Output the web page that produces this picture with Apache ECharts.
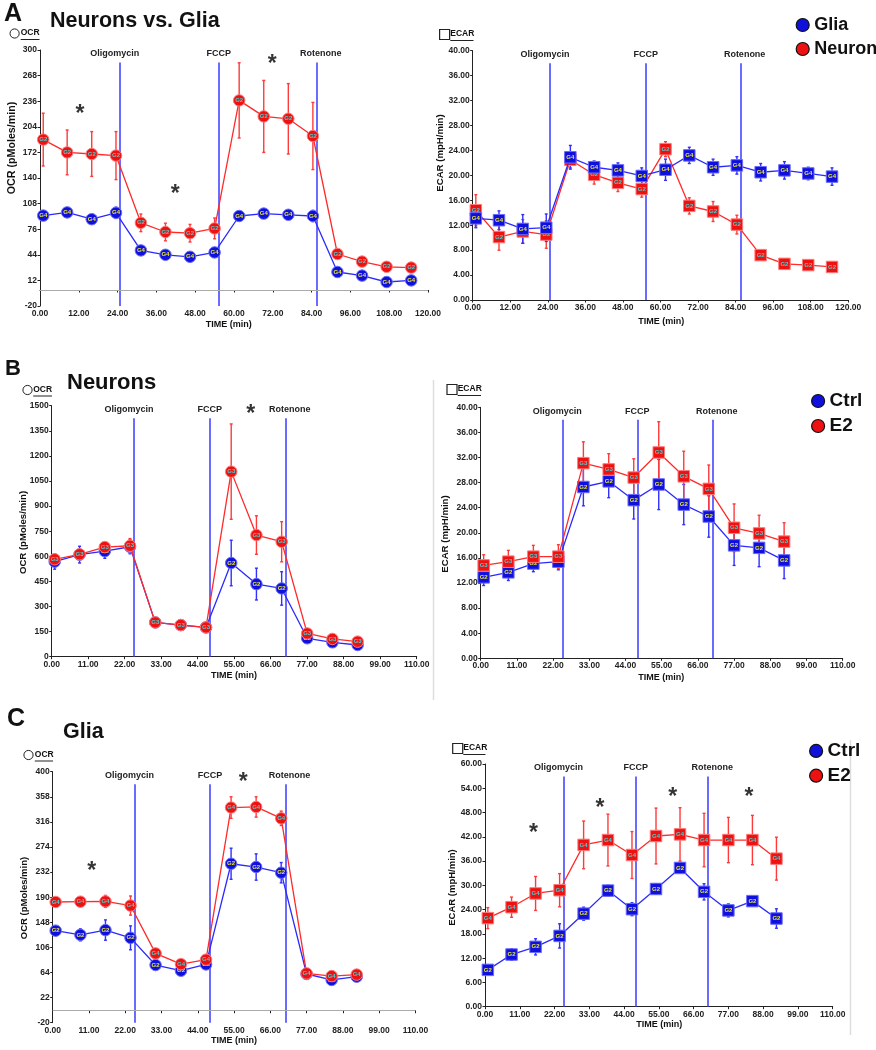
<!DOCTYPE html>
<html><head><meta charset="utf-8">
<script src="https://cdn.jsdelivr.net/npm/echarts@6/dist/echarts.min.js"></script>
<style>html,body{margin:0;padding:0;background:#fff}#c{width:876px;height:1050px}</style>
</head><body><div id="c"></div>
<script>
// ---------- DATA ----------
const drugNames = ['Oligomycin', 'FCCP', 'Rotenone'];

// Panel A (Neurons vs. Glia)
const timesA = [1.0, 8.4, 16.0, 23.5, 31.2, 38.8, 46.4, 54.0, 61.6, 69.2, 76.8, 84.4, 92.0, 99.6, 107.2, 114.8];
const injA = [24.7, 55.3, 85.6];
const neuronOcrA = [188, 172, 170, 168, 84, 72.5, 71, 77, 237, 217, 214, 192.5, 45, 35.5, 29, 28];
const neuronOcrErrA = [33, 28, 28, 30, 11, 11, 11, 13, 47, 45, 44, 42, 3, 3, 2, 2];
const gliaOcrA = [93, 97, 88.5, 96.5, 49.5, 44, 41.5, 47, 92.5, 95.5, 94, 92.5, 22.5, 18, 10, 12];
const gliaOcrErrA = [3, 3, 3, 7, 2, 2, 2, 2, 3, 3, 5, 7, 2, 2, 2, 2];
const neuronEcarA = [14.4, 10.1, 11.0, 10.5, 22.5, 20.1, 18.8, 17.8, 24.2, 15.1, 14.2, 12.1, 7.2, 5.8, 5.6, 5.3];
const neuronEcarErrA = [2.5, 2.1, 1.9, 2.2, 1.3, 1.5, 1.4, 1.3, 1.2, 1.3, 1.6, 1.5, 0.3, 0.3, 0.3, 0.3];
const gliaEcarA = [13.1, 12.8, 11.4, 11.6, 22.9, 21.3, 20.8, 19.9, 20.9, 23.2, 21.3, 21.6, 20.5, 20.8, 20.3, 19.8];
const gliaEcarErrA = [1.5, 1.5, 2.3, 2.2, 1.9, 1.0, 1.2, 1.3, 1.7, 1.3, 1.3, 1.4, 1.4, 1.4, 1.0, 1.4];
const starsOcrA = [[12.4, 225], [41.8, 126], [71.8, 287.5]];

// Panel B (Neurons, Ctrl vs E2)
const timesB = [0.9, 8.4, 16.0, 23.6, 31.2, 38.9, 46.5, 54.1, 61.7, 69.3, 77.0, 84.6, 92.2];
const injB = [24.8, 47.6, 70.5];
const ctrlOcrB = [568, 610, 631, 657, 205, 189, 175, 560, 434, 408, 110, 86, 70];
const ctrlOcrErrB = [45, 50, 43, 42, 10, 10, 10, 136, 95, 100, 10, 10, 10];
const e2OcrB = [582, 612, 655, 663, 205, 189, 175, 1106, 727, 687, 139, 106, 90];
const e2OcrErrB = [20, 20, 20, 43, 10, 10, 10, 285, 115, 120, 15, 15, 10];
const ctrlEcarB = [12.9, 13.7, 15.1, 15.4, 27.3, 28.2, 25.2, 27.7, 24.5, 22.6, 18.0, 17.6, 15.6];
const ctrlEcarErrB = [1.3, 1.3, 1.3, 1.3, 3.0, 2.6, 3.0, 4.0, 3.2, 3.3, 3.2, 3.0, 2.9];
const e2EcarB = [14.8, 15.4, 16.2, 16.2, 31.1, 30.1, 28.8, 32.8, 29.0, 27.0, 20.8, 19.9, 18.6];
const e2EcarErrB = [1.7, 1.8, 1.8, 1.9, 3.4, 2.5, 3.0, 4.9, 4.0, 3.8, 3.8, 2.9, 3.0];
const starsOcrB = [[60.0, 1478]];

// Panel C (Glia, Ctrl vs E2)
const timesC = [0.9, 8.4, 16.0, 23.6, 31.2, 38.9, 46.5, 54.1, 61.7, 69.3, 77.0, 84.6, 92.2];
const injC = [24.8, 47.7, 70.6];
const ctrlOcrC = [134, 127, 135, 122, 76.5, 67, 77.5, 246, 240.5, 231, 61.5, 51.5, 57];
const ctrlOcrErrC = [5, 10, 17, 20, 4, 3, 3, 26, 22, 17, 3, 3, 3];
const e2OcrC = [182, 182.5, 183, 176, 96, 78, 85.5, 340, 341, 322, 62.5, 58, 60.5];
const e2OcrErrC = [3, 3, 10, 16, 5, 4, 5, 18, 17, 12, 3, 3, 3];
const ctrlEcarC = [9.1, 12.9, 14.8, 17.5, 23.0, 28.7, 24.1, 29.1, 34.3, 28.4, 23.8, 26.1, 21.8];
const ctrlEcarErrC = [0.8, 1.4, 2.0, 3.0, 1.6, 1.3, 1.6, 1.3, 1.2, 2.0, 1.6, 1.1, 2.4];
const e2EcarC = [21.9, 24.6, 28.0, 28.8, 40.0, 41.2, 37.5, 42.2, 42.6, 41.2, 41.2, 41.2, 36.6];
const e2EcarErrC = [2.6, 2.5, 4.2, 4.1, 5.9, 6.4, 5.8, 6.9, 6.6, 6.6, 5.6, 6.1, 5.3];
const starsOcrC = [[11.8, 241], [57.8, 390.6]];
const starsEcarC = [[15.3, 43.9], [36.4, 50.3], [59.4, 52.9], [83.5, 52.9]];

// Tick values
const timeTicksA = [0, 12, 24, 36, 48, 60, 72, 84, 96, 108, 120];
const timeTicksBC = [0, 11, 22, 33, 44, 55, 66, 77, 88, 99, 110];
const ocrTicksA = [-20, 12, 44, 76, 108, 140, 172, 204, 236, 268, 300];
const ocrTicksB = [0, 150, 300, 450, 600, 750, 900, 1050, 1200, 1350, 1500];
const ocrTicksC = [-20, 22, 64, 106, 148, 190, 232, 274, 316, 358, 400];
const ecarTicksAB = [0, 4, 8, 12, 16, 20, 24, 28, 32, 36, 40];
const ecarTicksC = [0, 6, 12, 18, 24, 30, 36, 42, 48, 54, 60];

// ---------- STYLE ----------
const RED = {marker: '#ee1111', border: '#ff7a7a', line: '#ff2a2a', err: '#ff3a3a', tag: '#48d0d0'};
const BLUE = {marker: '#1010dd', border: '#6a6aff', line: '#2a2aff', err: '#3030ff', tag: '#e8e830'};
const FONT = 'Arial, "Liberation Sans", Helvetica, sans-serif';
const drugLabelShift = [-5, 0, 4];
const intFmt = v => String(Math.round(v));
const dec2 = v => v.toFixed(2);

const panels = [
  {grid: {left: 40, top: 50, width: 388, height: 256}, xt: timeTicksA, yt: ocrTicksA, yFmt: intFmt,
   times: timesA, inj: injA, stars: starsOcrA, zero: true, sym: 'circle',
   series: [
     {name: 'Glia', v: gliaOcrA, e: gliaOcrErrA, tag: 'G4', c: BLUE},
     {name: 'Neuron', v: neuronOcrA, e: neuronOcrErrA, tag: 'G2', c: RED}]},
  {grid: {left: 472.7, top: 50.7, width: 375.6, height: 249.3}, xt: timeTicksA, yt: ecarTicksAB, yFmt: dec2,
   times: timesA, inj: injA, stars: [], zero: false, sym: 'rect',
   series: [
     {name: 'Neuron', v: neuronEcarA, e: neuronEcarErrA, tag: 'G2', c: RED},
     {name: 'Glia', v: gliaEcarA, e: gliaEcarErrA, tag: 'G4', c: BLUE}]},
  {grid: {left: 51.7, top: 405.7, width: 365, height: 251}, xt: timeTicksBC, yt: ocrTicksB, yFmt: intFmt,
   times: timesB, inj: injB, stars: starsOcrB, zero: false, sym: 'circle',
   series: [
     {name: 'Ctrl', v: ctrlOcrB, e: ctrlOcrErrB, tag: 'G2', c: BLUE},
     {name: 'E2', v: e2OcrB, e: e2OcrErrB, tag: 'G3', c: RED}]},
  {grid: {left: 480.7, top: 407.3, width: 362, height: 251}, xt: timeTicksBC, yt: ecarTicksAB, yFmt: dec2,
   times: timesB, inj: injB, stars: [], zero: false, sym: 'rect',
   series: [
     {name: 'Ctrl', v: ctrlEcarB, e: ctrlEcarErrB, tag: 'G2', c: BLUE},
     {name: 'E2', v: e2EcarB, e: e2EcarErrB, tag: 'G3', c: RED}]},
  {grid: {left: 52.7, top: 771.7, width: 362.7, height: 251}, xt: timeTicksBC, yt: ocrTicksC, yFmt: intFmt,
   times: timesC, inj: injC, stars: starsOcrC, zero: true, sym: 'circle',
   series: [
     {name: 'Ctrl', v: ctrlOcrC, e: ctrlOcrErrC, tag: 'G2', c: BLUE},
     {name: 'E2', v: e2OcrC, e: e2OcrErrC, tag: 'G4', c: RED}]},
  {grid: {left: 485, top: 764, width: 347.7, height: 242.7}, xt: timeTicksBC, yt: ecarTicksC, yFmt: dec2,
   times: timesC, inj: injC, stars: starsEcarC, zero: false, sym: 'rect',
   series: [
     {name: 'Ctrl', v: ctrlEcarC, e: ctrlEcarErrC, tag: 'G2', c: BLUE},
     {name: 'E2', v: e2EcarC, e: e2EcarErrC, tag: 'G4', c: RED}]}
];

const grids = [], xAxes = [], yAxes = [], series = [];
const axisCommon = {
  axisLine: {show: true, lineStyle: {color: '#222', width: 1}},
  splitLine: {show: false}
};

panels.forEach((p, i) => {
  grids.push(Object.assign({containLabel: false}, p.grid));
  const xmin = p.xt[0], xmax = p.xt[p.xt.length - 1];
  const ymin = p.yt[0], ymax = p.yt[p.yt.length - 1];
  xAxes.push(Object.assign({}, axisCommon, {
    type: 'value', gridIndex: i, min: xmin, max: xmax,
    axisLabel: {customValues: p.xt, formatter: dec2, fontSize: 8.5, fontWeight: 'bold', color: '#222', fontFamily: FONT, margin: 3},
    axisTick: {show: true, customValues: p.xt, length: 2.5, lineStyle: {color: '#222'}}
  }));
  yAxes.push(Object.assign({}, axisCommon, {
    type: 'value', gridIndex: i, min: ymin, max: ymax,
    axisLabel: {customValues: p.yt, formatter: p.yFmt, fontSize: 8.5, fontWeight: 'bold', color: '#222', fontFamily: FONT, margin: 3},
    axisTick: {show: true, customValues: p.yt, length: 2.5, lineStyle: {color: '#222'}}
  }));

  const yTop = ymax - (ymax - ymin) * 12.5 / p.grid.height;

  p.series.forEach((s, k) => {
    // error bars
    series.push({
      type: 'custom', xAxisIndex: i, yAxisIndex: i, z: 2, silent: true, animation: false,
      data: p.times.map((t, j) => [t, s.v[j], s.e[j]]),
      encode: {x: 0, y: 1},
      renderItem: (params, api) => {
        const x = api.value(0), y = api.value(1), e = api.value(2);
        const a = api.coord([x, y + e]), b = api.coord([x, y - e]);
        const st = {stroke: s.c.err, lineWidth: 1.4};
        return {type: 'group', children: [
          {type: 'line', shape: {x1: a[0], y1: a[1], x2: b[0], y2: b[1]}, style: st},
          {type: 'line', shape: {x1: a[0] - 1.5, y1: a[1], x2: a[0] + 1.5, y2: a[1]}, style: st},
          {type: 'line', shape: {x1: b[0] - 1.5, y1: b[1], x2: b[0] + 1.5, y2: b[1]}, style: st}
        ]};
      }
    });
    const ser = {
      type: 'line', name: s.name, xAxisIndex: i, yAxisIndex: i, z: 3 + k, animation: false,
      data: p.times.map((t, j) => [t, s.v[j]]),
      symbol: p.sym, symbolSize: 11.5, showAllSymbol: true,
      itemStyle: {color: s.c.marker, borderColor: s.c.border, borderWidth: 1},
      lineStyle: {color: s.c.line, width: 1.3},
      label: {show: true, position: 'inside', formatter: s.tag, fontSize: 6, fontWeight: 'bold', color: s.c.tag, fontFamily: FONT},
      emphasis: {disabled: true}
    };
    if (k === 0) {
      const ml = p.inj.map((t, j) => [
        {name: drugNames[j], coord: [t, yTop], label: {offset: [drugLabelShift[j], 0]}},
        {coord: [t, ymin]}]);
      if (p.zero) ml.push({yAxis: 0, lineStyle: {color: '#aaaaaa', width: 1}, label: {show: false}});
      ser.markLine = {
        silent: true, symbol: ['none', 'none'], animation: false, z: 1,
        lineStyle: {color: '#3a3aff', width: 1.5, type: 'solid'},
        label: {show: true, position: 'start', distance: 4, formatter: '{b}', fontSize: 9, fontWeight: 'bold', color: '#222', fontFamily: FONT},
        emphasis: {disabled: true},
        data: ml
      };
    }
    series.push(ser);
  });

  if (p.stars.length) {
    series.push({
      type: 'scatter', xAxisIndex: i, yAxisIndex: i, z: 6, silent: true, animation: false,
      data: p.stars, symbol: 'circle', symbolSize: 2, itemStyle: {color: 'rgba(0,0,0,0)'},
      label: {show: true, position: 'inside', formatter: '*', fontSize: 23, fontWeight: 'bold', color: '#000', fontFamily: FONT, offset: [0, 5]},
      emphasis: {disabled: true}
    });
  }
});

// ---------- GRAPHIC (titles, indicators, axis names) ----------
const T = (x, y, text, size, opts) => Object.assign({
  type: 'text', x: x, y: y, silent: true,
  style: {text: text, fontSize: size, fontWeight: 'bold', fontFamily: FONT, fill: '#111', textAlign: 'left', textVerticalAlign: 'middle'}
}, opts || {});
const L = (x1, y1, x2, y2, color, w) => ({type: 'line', silent: true, shape: {x1, y1, x2, y2}, style: {stroke: color, lineWidth: w}});
const indicator = (kind, cx, cy, label, tx, ux2) => {
  const shape = kind === 'circle'
    ? {type: 'circle', silent: true, shape: {cx: cx, cy: cy, r: 4.6}, style: {fill: '#fff', stroke: '#222', lineWidth: 1}}
    : {type: 'rect', silent: true, shape: {x: cx - 5, y: cy - 5, width: 10, height: 10}, style: {fill: '#fff', stroke: '#222', lineWidth: 1.2}};
  return [shape, T(tx, cy - 0.5, label, 8.5), L(tx, cy + 6, ux2, cy + 6, '#222', 1)];
};
const yName = (x, y, text, size) => T(x, y, text, size, {rotation: Math.PI / 2, style: {text: text, fontSize: size, fontWeight: 'bold', fontFamily: FONT, fill: '#111', textAlign: 'center', textVerticalAlign: 'middle'}});
const xName = (x, y) => T(x, y, 'TIME (min)', 9, {style: {text: 'TIME (min)', fontSize: 9, fontWeight: 'bold', fontFamily: FONT, fill: '#111', textAlign: 'center', textVerticalAlign: 'middle'}});

const graphic = [
  T(4, 14.5, 'A', 25), T(50, 21, 'Neurons vs. Glia', 21.5),
  T(5, 369, 'B', 22), T(67, 383, 'Neurons', 22),
  T(7, 719, 'C', 25), T(63, 732, 'Glia', 21.5),
  ...indicator('circle', 14.6, 33.5, 'OCR', 20.7, 39.5),
  ...indicator('rect', 444.6, 34.5, 'ECAR', 450.3, 473.5),
  ...indicator('circle', 27.5, 390, 'OCR', 33.2, 52),
  ...indicator('rect', 452, 389.5, 'ECAR', 457.7, 481),
  ...indicator('circle', 28.5, 755, 'OCR', 34.8, 53),
  ...indicator('rect', 457.7, 748.5, 'ECAR', 463.3, 485.5),
  yName(12.3, 148, 'OCR (pMoles/min)', 10.7),
  yName(440.5, 153, 'ECAR (mpH/min)', 9.6),
  yName(23.3, 532.5, 'OCR (pMoles/min)', 9.6),
  yName(445.5, 534, 'ECAR (mpH/min)', 9.6),
  yName(24.3, 898, 'OCR (pMoles/min)', 9.5),
  yName(452.3, 887.5, 'ECAR (mpH/min)', 9.5),
  xName(228.7, 324.3), xName(661.3, 322),
  xName(234, 676), xName(661.3, 678),
  xName(234, 1040.7), xName(659.3, 1025),
  L(433.5, 380, 433.5, 700, '#dddddd', 1.5),
  L(850.5, 740, 850.5, 1035, '#dddddd', 1.5)
];

const legendCommon = {
  orient: 'vertical', icon: 'circle', itemWidth: 13, itemHeight: 13, itemGap: 0, padding: 0,
  selectedMode: false,
  itemStyle: {borderColor: '#111', borderWidth: 1.2},
  textStyle: {fontSize: 18, fontWeight: 'bold', color: '#111', fontFamily: FONT, lineHeight: 24}
};
const legends = [
  Object.assign({}, legendCommon, {left: 795.6, top: 13, data: ['Glia', 'Neuron']}),
  Object.assign({}, legendCommon, {left: 811, top: 388.5, data: ['Ctrl', 'E2'], textStyle: Object.assign({}, legendCommon.textStyle, {fontSize: 19, lineHeight: 25})}),
  Object.assign({}, legendCommon, {left: 809, top: 738.6, data: ['Ctrl', 'E2'], textStyle: Object.assign({}, legendCommon.textStyle, {fontSize: 19, lineHeight: 24.7})})
];

const chart = echarts.init(document.getElementById('c'), null, {renderer: 'canvas'});
chart.setOption({
  animation: false,
  backgroundColor: '#ffffff',
  grid: grids, xAxis: xAxes, yAxis: yAxes,
  legend: legends,
  graphic: graphic,
  series: series
});
</script>
</body></html>
